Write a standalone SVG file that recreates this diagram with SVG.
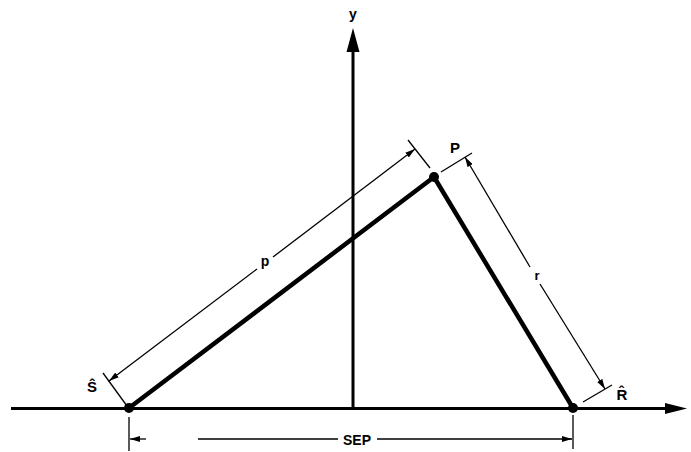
<svg xmlns="http://www.w3.org/2000/svg" width="691" height="452" viewBox="0 0 691 452">
<style>
.bg{fill:#fff}
.axis{stroke:#000;stroke-width:3;fill:none}
.side{stroke:#000;stroke-width:4.5;fill:none;stroke-linecap:round}
.dim{stroke:#000;stroke-width:1.3;fill:none}
.head{fill:#000}
.lbl{font-family:"Liberation Sans",Arial,sans-serif;font-weight:bold;fill:#000;text-anchor:middle}
</style>
<defs>
<marker id="da" markerUnits="userSpaceOnUse" viewBox="0 0 10 6" refX="10" refY="3" markerWidth="10" markerHeight="6" orient="auto">
<path d="M0,0 L10,3 L0,6 Z" fill="#000"/>
</marker>
</defs>
<rect class="bg" x="0" y="0" width="691" height="452"/>
<g id="axes">
<line class="axis" x1="11" y1="408.5" x2="668" y2="408.5"/>
<polygon class="head" points="687,408.5 665,403 665,414"/>
<line class="axis" x1="353" y1="409" x2="353" y2="48"/>
<polygon class="head" points="353,28 346.5,52 359.5,52"/>
<text class="lbl" x="353" y="19" font-size="14">y</text>
</g>
<g id="connectors">
<line class="side" x1="129" y1="408" x2="434" y2="177"/>
<line class="side" x1="434" y1="177" x2="573" y2="408"/>
<line class="dim" x1="127" y1="406" x2="103" y2="373"/>
<line class="dim" x1="430" y1="168" x2="408" y2="140"/>
<line class="dim" x1="257" y1="269" x2="109" y2="381" marker-end="url(#da)"/>
<line class="dim" x1="273" y1="257" x2="415" y2="149" marker-end="url(#da)"/>
<line class="dim" x1="441" y1="172" x2="472" y2="153"/>
<line class="dim" x1="583" y1="402" x2="612" y2="385"/>
<line class="dim" x1="530" y1="267" x2="465" y2="157" marker-end="url(#da)"/>
<line class="dim" x1="540" y1="284" x2="605" y2="389" marker-end="url(#da)"/>
<line class="dim" x1="129" y1="417" x2="129" y2="451"/>
<line class="dim" x1="573" y1="415" x2="573" y2="449"/>
<line class="dim" x1="146" y1="439" x2="130" y2="439" marker-end="url(#da)"/>
<line class="dim" x1="198" y1="439" x2="338" y2="439"/>
<line class="dim" x1="377" y1="439" x2="572" y2="439" marker-end="url(#da)"/>
</g>
<g id="node-S">
<circle cx="129" cy="408" r="5"/>
<text class="lbl" x="92" y="392" font-size="15">Ŝ</text>
</g>
<g id="node-P">
<circle cx="434" cy="177" r="5"/>
<text class="lbl" x="455" y="153" font-size="15">P</text>
</g>
<g id="node-R">
<circle cx="573" cy="408" r="5"/>
<text class="lbl" x="622" y="400" font-size="15">R̂</text>
</g>
<g id="labels">
<text class="lbl" x="265" y="266" font-size="14">p</text>
<text class="lbl" x="537" y="280" font-size="13">r</text>
<text class="lbl" x="357" y="445" font-size="14">SEP</text>
</g>
</svg>
